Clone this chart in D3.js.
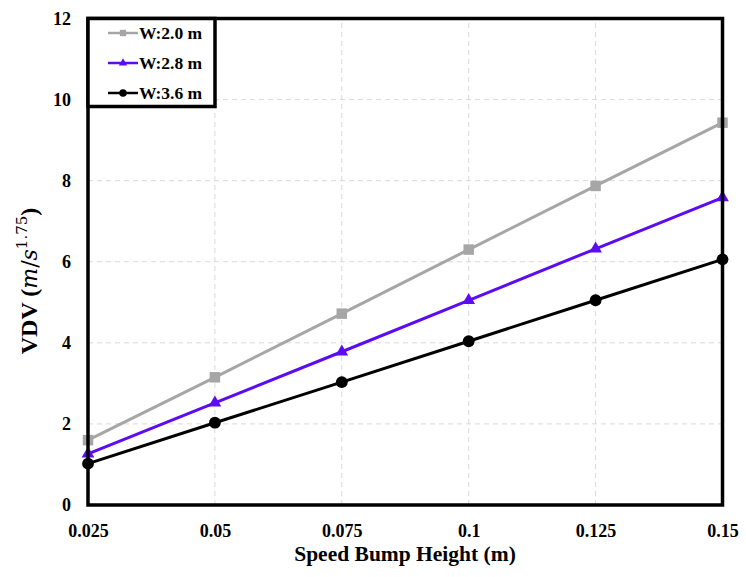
<!DOCTYPE html>
<html><head><meta charset="utf-8">
<script src="https://cdn.jsdelivr.net/npm/d3@7"></script>
<style>body{margin:0;background:#fff}svg{display:block}</style>
</head><body>
<script>
const heights = [0.025, 0.05, 0.075, 0.1, 0.125, 0.15];
const xTickLabels = ["0.025", "0.05", "0.075", "0.1", "0.125", "0.15"];
const yTicks = [0, 2, 4, 6, 8, 10, 12];
const seriesNames = ["W:2.0 m", "W:2.8 m", "W:3.6 m"];
const w20 = [1.60, 3.15, 4.72, 6.30, 7.87, 9.43];
const w28 = [1.26, 2.52, 3.78, 5.05, 6.32, 7.58];
const w36 = [1.02, 2.03, 3.03, 4.04, 5.05, 6.06];
const colors = ["#a6a6a6", "#5b0cf5", "#000000"];
const symbols = ["square", "triangle", "circle"];

const W = 746, H = 577;
const m = {left: 88, right: 746 - 722.5, top: 18.5, bottom: 577 - 505};
const svg = d3.select("body").append("svg").attr("width", W).attr("height", H);
const font = "'Liberation Serif','Times New Roman',serif";

const x = d3.scaleLinear().domain([0.025, 0.15]).range([m.left, W - m.right]);
const y = d3.scaleLinear().domain([0, 12]).range([H - m.bottom, m.top]);

// grid
const g = svg.append("g");
g.selectAll(".gx").data(heights.slice(1, -1)).enter().append("line")
  .attr("x1", d => x(d)).attr("x2", d => x(d)).attr("y1", y(0)).attr("y2", y(12))
  .attr("stroke", "#d9d9d9").attr("stroke-dasharray", "5,4").attr("stroke-width", 1);
g.selectAll(".gy").data(yTicks.slice(1, -1)).enter().append("line")
  .attr("x1", x(0.025)).attr("x2", x(0.15)).attr("y1", d => y(d)).attr("y2", d => y(d))
  .attr("stroke", "#d9d9d9").attr("stroke-dasharray", "5,4").attr("stroke-width", 1);

// axes (labels only)
const xAxis = d3.axisBottom(x).tickValues(heights).tickFormat((d, i) => xTickLabels[i]).tickSize(0).tickPadding(19);
const gx = svg.append("g").attr("transform", `translate(0,${y(0)})`).call(xAxis);
gx.select(".domain").remove();
gx.selectAll("text").attr("font-family", font).attr("font-weight", "bold").attr("font-size", 18).attr("fill", "#000");

const yAxis = d3.axisLeft(y).tickValues(yTicks).tickFormat(d3.format("d")).tickSize(0).tickPadding(17);
const gy = svg.append("g").attr("transform", `translate(${x(0.025)},0)`).call(yAxis);
gy.select(".domain").remove();
gy.selectAll("text").attr("font-family", font).attr("font-weight", "bold").attr("font-size", 18).attr("fill", "#000");

// series
const allSeries = [w20, w28, w36];
const line = d3.line().x((d, i) => x(heights[i])).y(d => y(d));
const symGen = {
  square: d3.symbol().type(d3.symbolSquare).size(110),
  triangle: d3.symbol().type(d3.symbolTriangle).size(70),
  circle: d3.symbol().type(d3.symbolCircle).size(110)
};
allSeries.forEach((s, k) => {
  svg.append("path").datum(s).attr("d", line).attr("fill", "none")
    .attr("stroke", colors[k]).attr("stroke-width", 3);
  svg.selectAll(".p" + k).data(s).enter().append("path")
    .attr("transform", (d, i) => `translate(${x(heights[i])},${y(d)})`)
    .attr("d", symGen[symbols[k]]()).attr("fill", colors[k]);
});

// frame
svg.append("rect").attr("x", x(0.025)).attr("y", y(12))
  .attr("width", x(0.15) - x(0.025)).attr("height", y(0) - y(12))
  .attr("fill", "none").attr("stroke", "#000").attr("stroke-width", 3.5);

// legend
const lg = svg.append("g");
lg.append("rect").attr("x", x(0.025)).attr("y", y(12)).attr("width", 127).attr("height", 88)
  .attr("fill", "#fff").attr("stroke", "#000").attr("stroke-width", 3.5);
const legSym = {
  square: d3.symbol().type(d3.symbolSquare).size(40),
  triangle: d3.symbol().type(d3.symbolTriangle).size(30),
  circle: d3.symbol().type(d3.symbolCircle).size(45)
};
seriesNames.forEach((n, k) => {
  const cy = 33 + k * 30;
  lg.append("line").attr("x1", 108).attr("x2", 138).attr("y1", cy).attr("y2", cy)
    .attr("stroke", colors[k]).attr("stroke-width", 2.5);
  lg.append("path").attr("transform", `translate(123,${cy})`).attr("d", legSym[symbols[k]]()).attr("fill", colors[k]);
  lg.append("text").attr("x", 139).attr("y", cy + 6).text(n)
    .attr("font-family", font).attr("font-weight", "bold").attr("font-size", 17.5).attr("fill", "#000");
});

// x title
svg.append("text").attr("x", 405).attr("y", 561).attr("text-anchor", "middle")
  .attr("font-family", font).attr("font-weight", "bold").attr("font-size", 21.5).text("Speed Bump Height (m)");

// y title
const yt = svg.append("text").attr("transform", `translate(37,281) rotate(-90)`)
  .attr("text-anchor", "middle").attr("font-family", font).attr("font-size", 24);
yt.append("tspan").attr("font-weight", "bold").text("VDV (");
yt.append("tspan").attr("font-style", "italic").attr("font-family", "'DejaVu Serif',serif").attr("font-size", 22).text("m");
yt.append("tspan").attr("font-family", "'DejaVu Serif',serif").attr("font-size", 22).text("/");
yt.append("tspan").attr("font-style", "italic").attr("font-family", "'DejaVu Serif',serif").attr("font-size", 22).text("s");
yt.append("tspan").attr("font-family", "'DejaVu Serif',serif").attr("font-size", 15).attr("dy", -10).text("1.75");
yt.append("tspan").attr("font-weight", "bold").attr("dy", 10).text(")");
</script>
</body></html>
